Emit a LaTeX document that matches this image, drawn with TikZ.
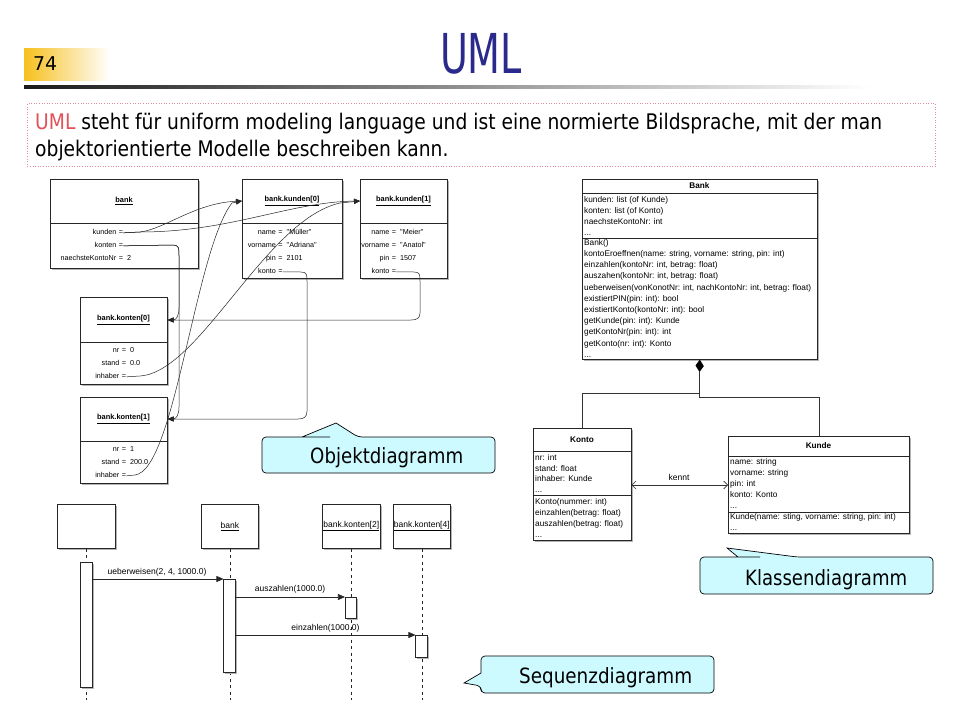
\documentclass[tikz,border=0pt]{standalone}
\usepackage{fontspec}
\setmainfont{DejaVu Sans}
\newfontfamily\arialf{Liberation Sans}
\usetikzlibrary{arrows.meta}
\definecolor{titleblue}{RGB}{42,42,140}
\definecolor{umlred}{RGB}{226,80,88}
\definecolor{pgyellow}{RGB}{246,192,30}
\definecolor{boxborder}{RGB}{226,140,155}
\definecolor{callfill}{RGB}{204,250,255}
\definecolor{shadowgray}{RGB}{180,180,180}
\newsavebox\fitbox
\newdimen\fitdim
\newcommand\threedots{.{}.{}.}
\newcommand\fitw[2]{\sbox\fitbox{#2}\fitdim=\wd\fitbox\pgfmathsetmacro\tmpscale{#1/\fitdim}\global\let\lastscale\tmpscale\scalebox{\lastscale}[1]{\usebox\fitbox}}
\newcommand\oattr[5]{%
  \node[otext,anchor=base east] (#1n) at (#2-4.5,#3) {#4};
  \node[otext,anchor=base] (#1e) at (#2,#3) {=};
  \node[otext,anchor=base west] (#1v) at (#2+6,#3) {#5};}
\begin{document}
\begin{tikzpicture}[x=1pt,y=-1pt,
  umlbox/.style={draw=black!85, fill=white, line width=0.6pt, inner sep=0pt, anchor=north west,
    preaction={fill=shadowgray, draw=none, transform canvas={xshift=2pt, yshift=-2pt}}},
  divline/.style={line width=0.6pt, draw=black!85},
  otext/.style={font=\arialf\fontsize{7.2}{8}\selectfont, inner sep=0pt},
  ohead/.style={font=\arialf\bfseries\fontsize{7.4}{8}\selectfont, inner sep=0pt},
  ctext/.style={font=\arialf\fontsize{8.3}{9}\selectfont, inner sep=0pt, anchor=base west},
  chead/.style={font=\arialf\bfseries\fontsize{8.2}{9}\selectfont, inner sep=0pt},
  stext/.style={font=\arialf\fontsize{8.5}{10}\selectfont, inner sep=0pt},
  conn/.style={line width=0.5pt, draw=black!85},
  objarrow/.style={conn, -{Triangle[length=6pt,width=5pt]}},
  seqarrow/.style={line width=0.6pt, draw=black!85, -{Triangle[length=7pt,width=6pt]}},
  assoc/.style={line width=0.6pt, draw=black!80},
  lifeline/.style={line width=0.6pt, draw=black!85, dash pattern=on 3pt off 3.5pt},
  actbar/.style={draw=black!85, fill=white, line width=0.6pt, inner sep=0pt, anchor=north,
    minimum width=11.5pt, preaction={fill=shadowgray, draw=none, transform canvas={xshift=1.5pt, yshift=-1.5pt}}},
  callout/.style={draw=black, fill=callfill, line width=0.7pt, rounded corners=4pt},
  calltext/.style={font=\fontsize{21}{24}\selectfont, inner sep=0pt, anchor=base west}
]
\useasboundingbox (0,0) rectangle (960,720);
\fill[white] (0,0) rectangle (960,720);

% ---------- header ----------
\shade[left color=pgyellow, right color=white] (24,48) rectangle (110,80);
\node[anchor=base west, inner sep=0pt, font=\fontsize{19}{22}\selectfont] (pnum) at (33,70) {\fitw{24}{74}};
\node[anchor=base, inner sep=0pt, text=titleblue, font=\fontsize{55}{60}\selectfont] (title) at (481,73) {\fitw{82}{UML}};
\shade[left color=black!90, middle color=black!35, right color=white] (24,85) rectangle (870,88);

\node[draw=boxborder, dotted, line width=0.6pt, anchor=north west, inner sep=0pt,
  minimum width=908pt, minimum height=63pt] (intro) at (27,103) {};
\node[anchor=base west, inner sep=0pt, font=\fontsize{21.5}{26}\selectfont] (line1) at (35,129)
  {\fitw{847}{\textcolor{umlred}{UML} steht für uniform modeling language und ist eine normierte Bildsprache, mit der man}};
\node[anchor=base west, inner sep=0pt, font=\fontsize{21.5}{26}\selectfont] (line2) at (35,156)
  {\scalebox{\lastscale}[1]{objektorientierte Modelle beschreiben kann.}};

% ---------- object diagram ----------
\node[umlbox, minimum width=148pt, minimum height=89pt] (bank) at (50,179) {};
\draw[divline] (50,223) -- (198,223);
\node[ohead] (bankh) at (124,201) {\underline{bank}};
\oattr{bkun}{121}{234.6}{kunden}{}
\oattr{bkon}{121}{247.6}{konten}{}
\oattr{bnae}{121}{260.6}{naechsteKontoNr}{2}

\node[umlbox, minimum width=100pt, minimum height=99pt] (k0) at (242,179) {};
\draw[divline] (242,223) -- (342,223);
\node[ohead] (k0h) at (292,201) {\underline{bank.kunden[0]}};
\oattr{k0na}{280.5}{234.6}{name}{"Müller"}
\oattr{k0vo}{280.5}{247.6}{vorname}{"Adriana"}
\oattr{k0pi}{280.5}{260.6}{pin}{2101}
\oattr{k0ko}{280.5}{273.6}{konto}{}

\node[umlbox, minimum width=87pt, minimum height=99pt] (k1) at (360,179) {};
\draw[divline] (360,223) -- (447,223);
\node[ohead] (k1h) at (403.5,201) {\underline{bank.kunden[1]}};
\oattr{k1na}{394}{234.6}{name}{"Meier"}
\oattr{k1vo}{394}{247.6}{vorname}{"Anatol"}
\oattr{k1pi}{394}{260.6}{pin}{1507}
\oattr{k1ko}{394}{273.6}{konto}{}

\node[umlbox, minimum width=87pt, minimum height=87pt] (c0) at (80,297) {};
\draw[divline] (80,342) -- (167,342);
\node[ohead] (c0h) at (123.5,320) {\underline{bank.konten[0]}};
\oattr{c0nr}{124}{352.6}{nr}{0}
\oattr{c0st}{124}{365.6}{stand}{0.0}
\oattr{c0in}{124}{378.6}{inhaber}{}

\node[umlbox, minimum width=87pt, minimum height=86pt] (c1) at (80,397) {};
\draw[divline] (80,441) -- (167,441);
\node[ohead] (c1h) at (123.5,419) {\underline{bank.konten[1]}};
\oattr{c1nr}{124}{451.6}{nr}{1}
\oattr{c1st}{124}{464.6}{stand}{200.0}
\oattr{c1in}{124}{477.6}{inhaber}{}

% object links
\draw[objarrow] (bkune.east) -- (140,232) .. controls (165,229) and (195,203) .. (k0.west |- k0h);
\draw[objarrow] (bkune.east) -- (140,232) .. controls (230,232) and (290,202) .. (k1.west |- k1h);
\draw[objarrow] (bkone.east) -- (173,245) .. controls (179,245) and (179,248) .. (179,256) -- (179,308)
  .. controls (179,316) and (176,320) .. (c0.east |- c0h);
\draw[objarrow] (bkone.east) -- (173,245) .. controls (179,245) and (179,248) .. (179,256) -- (179,407)
  .. controls (179,415) and (176,419) .. (c1.east |- c1h);
\draw[objarrow] (k0koe.east) -- (301,272) .. controls (307,272) and (307,275) .. (307,281) -- (307,411)
  .. controls (307,417) and (304,419) .. (298,419) -- (c1.east |- c1h);
\draw[objarrow] (k1koe.east) -- (414,272) .. controls (420,272) and (420,275) .. (420,281) -- (420,313)
  .. controls (420,318) and (417,320) .. (411,320) -- (c0.east |- c0h);
\draw[objarrow] (c0ine.east) -- (140,376) .. controls (200,372) and (265,220) .. (340,203) -- (k1.west |- k1h);
\draw[objarrow] (c1ine.east) -- (135,475) .. controls (175,470) and (195,250) .. (232,203) -- (k0.west |- k0h);

% ---------- class diagram ----------
\node[umlbox, minimum width=235pt, minimum height=180pt] (bankc) at (582,179) {};
\draw[divline] (582,193) -- (817,193);
\draw[divline] (582,238) -- (817,238);
\node[chead] (bankch) at (699.5,186) {Bank};
\foreach \t [count=\i] in {{kunden: list (of Kunde)},{konten: list (of Konto)},{naechsteKontoNr: int},{\threedots}}
  \node[ctext] (ba\i) at (584,{202.5+11.1*(\i-1)}) {\t};
\foreach \t [count=\i] in {{Bank()},{kontoEroeffnen(name: string, vorname: string, pin: int)},
  {einzahlen(kontoNr: int, betrag: float)},{auszahen(kontoNr: int, betrag: float)},
  {ueberweisen(vonKonotNr: int, nachKontoNr: int, betrag: float)},{existiertPIN(pin: int): bool},
  {existiertKonto(kontoNr: int): bool},{getKunde(pin: int): Kunde},{getKontoNr(pin: int): int},
  {getKonto(nr: int): Konto},{\threedots}}
  \node[ctext] (bm\i) at (584,{245.3+11.2*(\i-1)}) {\t};

\node[umlbox, minimum width=98pt, minimum height=112pt] (konto) at (533,428) {};
\draw[divline] (533,451) -- (631,451);
\draw[divline] (533,495) -- (631,495);
\node[chead] (kontoh) at (582,440) {Konto};
\foreach \t [count=\i] in {{nr: int},{stand: float},{inhaber: Kunde},{\threedots}}
  \node[ctext] (ka\i) at (535,{460.5+10.7*(\i-1)}) {\t};
\foreach \t [count=\i] in {{Konto(nummer: int)},{einzahlen(betrag: float)},{auszahlen(betrag: float)},{\threedots}}
  \node[ctext] (km\i) at (535,{504.5+11*(\i-1)}) {\t};

\node[umlbox, minimum width=181pt, minimum height=97pt] (kunde) at (728,436) {};
\draw[divline] (728,456) -- (909,456);
\draw[divline] (728,512) -- (909,512);
\node[chead] (kundeh) at (818.5,446) {Kunde};
\foreach \t [count=\i] in {{name: string},{vorname: string},{pin: int},{konto: Konto},{\threedots}}
  \node[ctext] (ua\i) at (730,{464.3+11*(\i-1)}) {\t};
\foreach \t [count=\i] in {{Kunde(name: sting, vorname: string, pin: int)},{\threedots}}
  \node[ctext] (um\i) at (730,{519.5+10.5*(\i-1)}) {\t};

\coordinate (dtop) at (bankc.south);
\coordinate (dbot) at (699.5,372);
\fill[black] (dtop) -- ++(4,6.5) -- (dbot) -- ++(-4,-6.5) -- cycle;
\coordinate (djoin) at (699.5,393);
\draw[assoc] (dbot) -- (699.5,397) -| (kunde.north);
\draw[assoc] (djoin) -| (konto.north);
\draw[assoc, {Straight Barb[length=4pt,width=8pt]}-{Straight Barb[length=4pt,width=8pt]}]
  (konto.east |- 0,485) -- (kunde.west |- 0,485);
\node[stext] (kennt) at (679,477) {kennt};

% ---------- sequence diagram ----------
\node[umlbox, minimum width=58pt, minimum height=44pt] (s1) at (57,504) {};
\node[umlbox, minimum width=57pt, minimum height=44pt] (s2) at (201,504) {};
\node[umlbox, minimum width=58pt, minimum height=44pt] (s3) at (322,504) {};
\node[umlbox, minimum width=57pt, minimum height=44pt] (s4) at (393,504) {};
\node[stext] (s2t) at (s2.center) {\underline{bank}};
\node[stext] (s3t) at (s3.center) {\underline{bank.konten[2]}};
\node[stext] (s4t) at (s4.center) {\underline{bank.konten[4]}};

\coordinate (e1) at (s1.south |- 0,700);
\coordinate (e2) at (s2.south |- 0,700);
\coordinate (e3) at (s3.south |- 0,700);
\coordinate (e4) at (s4.south |- 0,700);
\draw[lifeline] (s1.south) -- (e1);
\draw[lifeline] (s2.south) -- (e2);
\draw[lifeline] (s3.south) -- (e3);
\draw[lifeline] (s4.south) -- (e4);

\node[actbar, minimum height=125pt] (a1) at (86.5,562) {};
\node[actbar, minimum height=93pt] (a2) at (229.5,579) {};
\node[actbar, minimum height=21pt] (a3) at (351,597) {};
\node[actbar, minimum height=22pt] (a4) at (421.5,635) {};

\draw[seqarrow] (a1.east |- a2.north) -- (a2.north west);
\draw[seqarrow] (a2.east |- a3.north) -- (a3.north west);
\draw[seqarrow] (a2.east |- a4.north) -- (a4.north west);
\node[stext] (m1) at (157,572) {ueberweisen(2, 4, 1000.0)};
\node[stext] (m2) at (290,589) {auszahlen(1000.0)};
\node[stext] (m3) at (325.5,628) {einzahlen(1000.0)};

% ---------- callouts ----------
\draw[callout] (330,437) -- (262,437) -- (262,473) -- (495,473) -- (495,437) -- (358,437)
  [sharp corners] -- (336,423) -- (302,437) -- cycle;
\node[calltext] (objl) at (310,463) {\fitw{153}{Objektdiagramm}};

\draw[callout] (760,557) -- (700,557) -- (700,594) -- (933,594) -- (933,557) -- (797,557)
  [sharp corners] -- (727,548) -- (738,557) -- cycle;
\node[calltext] (klal) at (745,585) {\fitw{162}{Klassendiagramm}};

\draw[callout] (600,656) -- (714,656) -- (714,693) -- (481,693) -- (481,686)
  [sharp corners] -- (464,683) -- (481,673) [rounded corners=4pt] -- (481,656) -- cycle;
\node[calltext] (seql) at (519,683) {\fitw{173}{Sequenzdiagramm}};
\end{tikzpicture}
\end{document}
